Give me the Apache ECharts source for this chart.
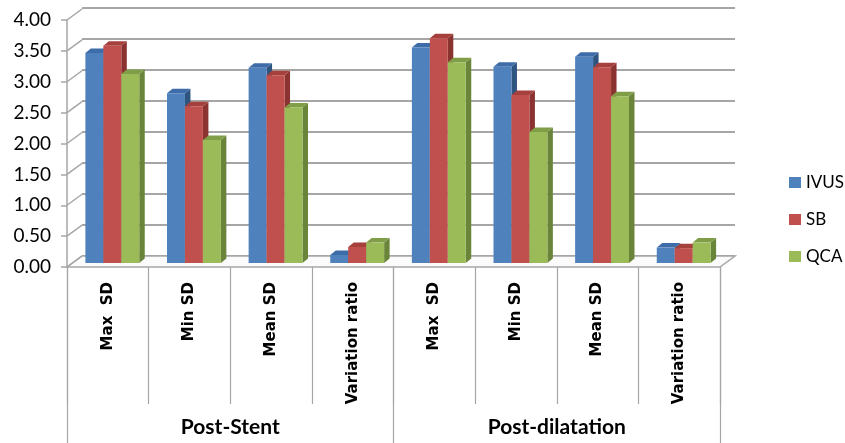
<!DOCTYPE html>
<html>
<head>
<meta charset="utf-8">
<script src="https://cdn.jsdelivr.net/npm/echarts@6/dist/echarts.min.js"></script>
<style>
  html, body { margin: 0; padding: 0; background: #fff; }
  #chart { width: 845px; height: 443px; }
</style>
</head>
<body>
<div id="chart"></div>
<script>
  const categories = ["Max  SD", "Min SD", "Mean SD", "Variation ratio", "Max  SD", "Min SD", "Mean SD", "Variation ratio"];
  const groups = ["Post-Stent", "Post-dilatation"];
  const yTicks = [0, 0.5, 1, 1.5, 2, 2.5, 3, 3.5, 4];
  const ivus = [3.40, 2.75, 3.16, 0.13, 3.49, 3.18, 3.34, 0.25];
  const sb = [3.52, 2.54, 3.04, 0.26, 3.64, 2.72, 3.17, 0.24];
  const qca = [3.06, 1.99, 2.52, 0.33, 3.25, 2.12, 2.70, 0.33];

  const names = ["IVUS", "SB", "QCA"];
  const values = [ivus, sb, qca];
  const faces = [
    { front: "#4F81BD", top: "#3D6CA8", side: "#2E5480" },
    { front: "#C0504D", top: "#A6403D", side: "#8A3330" },
    { front: "#9BBB59", top: "#809E47", side: "#6A8539" }
  ];

  const DEPTH = [15, -11];      // front plane -> back wall
  const SHIFT = [4.5, -4];      // front plane -> bar front faces
  const BAR_DEPTH = [5.5, -4.5];
  const GROUP_RATIO = 0.66;
  const GRID_GRAY = "#a6a6a6";

  const chart = echarts.init(document.getElementById("chart"));

  function barRenderer(k) {
    return function (params, api) {
      const cat = api.value(0);
      const base = api.coord([cat, 0]);
      const top = api.coord([cat, api.value(1)]);
      const band = api.size([1, 0])[0];
      const w = band * GROUP_RATIO / 3;
      const x0 = base[0] - band * GROUP_RATIO / 2 + k * w + SHIFT[0];
      const x1 = x0 + w;
      const yb = base[1] + SHIFT[1];
      const yt = top[1] + SHIFT[1];
      const dx = BAR_DEPTH[0], dy = BAR_DEPTH[1];
      const c = faces[k];
      return {
        type: "group",
        children: [
          { type: "polygon", shape: { points: [[x1, yb], [x1 + dx, yb + dy], [x1 + dx, yt + dy], [x1, yt]] }, style: { fill: c.side } },
          { type: "polygon", shape: { points: [[x0, yt], [x0 + dx, yt + dy], [x1 + dx, yt + dy], [x1, yt]] }, style: { fill: c.top } },
          { type: "rect", shape: { x: x0, y: yt, width: w, height: yb - yt }, style: { fill: c.front } }
        ]
      };
    };
  }

  function connectorRenderer(params, api) {
    const p = api.coord([0, api.value(0)]);
    const band = api.size([1, 0])[0];
    const x = p[0] - band / 2;
    return {
      type: "line",
      shape: { x1: x, y1: p[1], x2: x + DEPTH[0], y2: p[1] + DEPTH[1] },
      style: { stroke: GRID_GRAY, lineWidth: 1.5 }
    };
  }

  function floorRenderer(params, api) {
    const band = api.size([1, 0])[0];
    const l = api.coord([0, 0]);
    const r = api.coord([categories.length - 1, 0]);
    const xl = l[0] - band / 2, xr = r[0] + band / 2, y = l[1];
    return {
      type: "polygon",
      shape: { points: [[xl, y], [xr, y], [xr + DEPTH[0], y + DEPTH[1]], [xl + DEPTH[0], y + DEPTH[1]]] },
      style: { fill: "#fbfbfb", stroke: GRID_GRAY, lineWidth: 1.5 }
    };
  }

  const barSeries = names.map((name, k) => ({
    name: name,
    type: "custom",
    xAxisIndex: 0,
    yAxisIndex: 0,
    renderItem: barRenderer(k),
    itemStyle: { color: faces[k].front },
    data: values[k].map((v, i) => [i, v]),
    z: 10,
    clip: false
  }));

  chart.setOption({
    animation: false,
    legend: {
      data: names,
      orient: "vertical",
      left: 789,
      top: 174,
      padding: 0,
      itemWidth: 12,
      itemHeight: 11,
      itemGap: 20,
      icon: "rect",
      textStyle: { fontFamily: "Lato", fontSize: 17, color: "#000" }
    },
    grid: [
      { left: 67, right: 125, top: 20, bottom: 176 },
      { left: 82, right: 110, top: 8, bottom: 187 }
    ],
    xAxis: [
      {
        type: "category", gridIndex: 0, data: categories,
        axisLine: { show: false },
        axisTick: { show: true, interval: 0, length: 137, lineStyle: { color: GRID_GRAY, width: 1.2 } },
        axisLabel: { interval: 0, rotate: 90, margin: 15, color: "#000", fontFamily: "DejaVu Sans", fontWeight: "bold", fontSize: 15 }
      },
      {
        type: "category", gridIndex: 0, data: groups, position: "bottom",
        axisLine: { show: false },
        axisTick: { show: true, interval: 0, length: 176, lineStyle: { color: GRID_GRAY, width: 1.2 } },
        axisLabel: { interval: 0, margin: 150, color: "#000", fontFamily: "Lato", fontWeight: "bold", fontSize: 21 }
      },
      {
        type: "category", gridIndex: 1, data: categories,
        axisLine: { show: false }, axisTick: { show: false }, axisLabel: { show: false }
      }
    ],
    yAxis: [
      {
        type: "value", gridIndex: 0, min: 0, max: 4, interval: 0.5,
        axisLine: { show: true, lineStyle: { color: GRID_GRAY, width: 1.5 } },
        axisTick: { show: true, length: 6, lineStyle: { color: GRID_GRAY, width: 1.5 } },
        axisLabel: { margin: 16, color: "#000", fontFamily: "Lato", fontSize: 19, formatter: (v) => v.toFixed(2) },
        splitLine: { show: false }
      },
      {
        type: "value", gridIndex: 1, min: 0, max: 4, interval: 0.5,
        axisLine: { show: false }, axisTick: { show: false }, axisLabel: { show: false },
        splitLine: { show: true, lineStyle: { color: GRID_GRAY, width: 2 } }
      }
    ],
    series: [
      {
        type: "custom", xAxisIndex: 0, yAxisIndex: 0, renderItem: floorRenderer,
        data: [[0, 0]], z: 2, silent: true, clip: false
      },
      {
        type: "custom", xAxisIndex: 0, yAxisIndex: 0, renderItem: connectorRenderer,
        data: yTicks.map((v) => [v]), encode: { y: 0 }, z: 2, silent: true, clip: false
      }
    ].concat(barSeries)
  });
</script>
</body>
</html>
